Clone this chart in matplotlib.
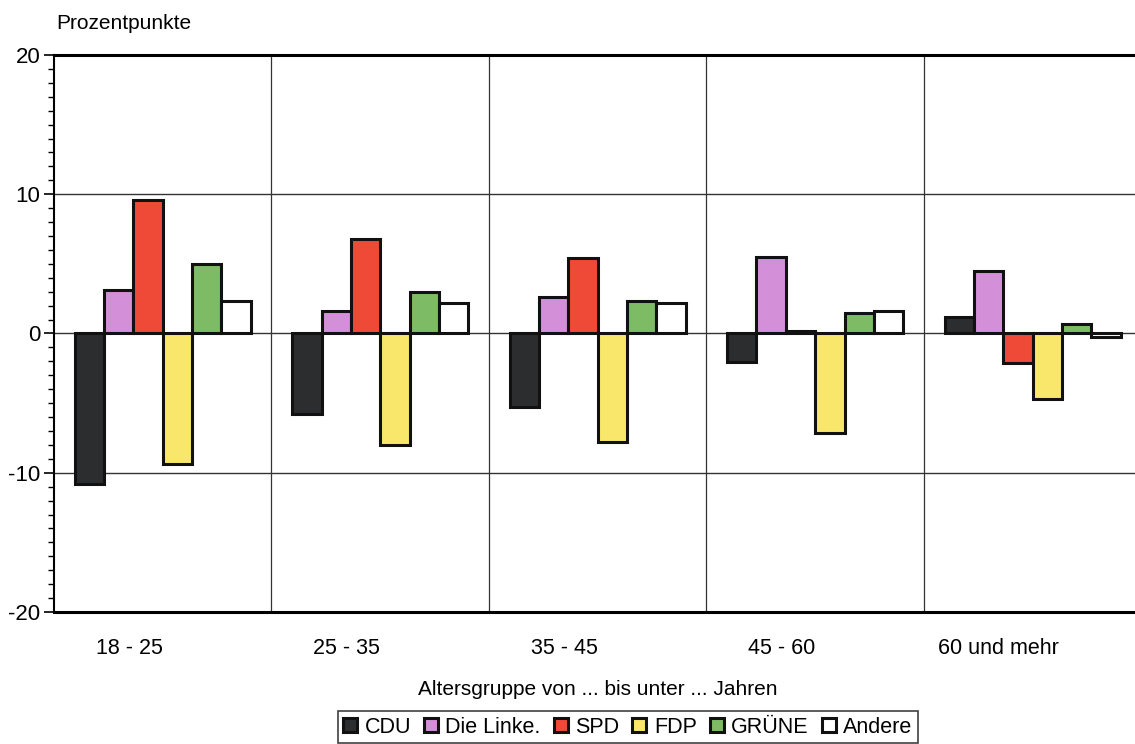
import numpy as np
import matplotlib.pyplot as plt
from matplotlib.ticker import MultipleLocator

plt.rcParams['font.family'] = ['Liberation Sans', 'DejaVu Sans']
plt.rcParams['axes.unicode_minus'] = False

# data
gruppen = ['18 - 25', '25 - 35', '35 - 45', '45 - 60', '60 und mehr']
parteien = ['CDU', 'Die Linke.', 'SPD', 'FDP', 'GRÜNE', 'Andere']
cdu = [-10.8, -5.8, -5.25, -2.05, 1.15]
linke = [3.1, 1.6, 2.6, 5.5, 4.5]
spd = [9.6, 6.8, 5.4, 0.15, -2.15]
fdp = [-9.4, -8.0, -7.8, -7.15, -4.7]
gruene = [5.0, 3.0, 2.3, 1.45, 0.65]
andere = [2.3, 2.2, 2.2, 1.6, -0.25]
farben = ['#2b2d2e', '#d38fd8', '#ef4a38', '#f8e76a', '#7dbb65', '#ffffff']

werte = [cdu, linke, spd, fdp, gruene, andere]

fig = plt.figure(figsize=(11.35, 7.44), dpi=100)
# axes extends a bit past right edge like the scan
ax = fig.add_axes([0.0476, 0.1774, 0.958, 0.7487])

x = np.arange(len(gruppen))
bw = 0.135
for i, (name, vals) in enumerate(zip(parteien, werte)):
    off = (i - 2.5) * bw
    ax.bar(x + off, vals, bw, color=farben[i], edgecolor='#111111',
           linewidth=2.2, label=name, zorder=3)

ax.set_xlim(-0.5, len(gruppen) - 0.5)
ax.set_ylim(-20, 20)

# grid
for b in np.arange(0.5, len(gruppen) - 0.5, 1):
    ax.axvline(b, color='#333333', lw=0.9, zorder=1)
for yv in [-10, 0, 10]:
    ax.axhline(yv, color='#333333', lw=1.0, zorder=1)

ax.yaxis.set_major_locator(MultipleLocator(10))
ax.yaxis.set_minor_locator(MultipleLocator(1))
ax.tick_params(axis='y', which='major', length=7, width=1.2, labelsize=16, pad=3)
ax.tick_params(axis='y', which='minor', length=4, width=1.0)
# labels in the original sit a bit left of the group centres
ax.set_xticks(x - 0.155)
ax.set_xticklabels(gruppen, fontsize=15.5)
ax.tick_params(axis='x', length=0, pad=19)

ax.spines['top'].set_linewidth(2.2)
ax.spines['bottom'].set_linewidth(2.2)
ax.spines['left'].set_linewidth(1.5)
ax.spines['right'].set_visible(False)

ax.set_xlabel('Altersgruppe von ... bis unter ... Jahren', fontsize=15, labelpad=15)
fig.text(0.050, 0.968, 'Prozentpunkte', fontsize=15, va='center', ha='left')

leg = fig.legend(loc='upper center', bbox_to_anchor=(0.553, 0.044), ncol=6,
                 fontsize=15.5, frameon=True, fancybox=False, edgecolor='#111111',
                 handlelength=0.65, handleheight=0.65, handletextpad=0.35,
                 columnspacing=0.6, borderpad=0.25, borderaxespad=0)
leg.get_frame().set_linewidth(1.2)

fig.savefig('out.png', dpi=100)
